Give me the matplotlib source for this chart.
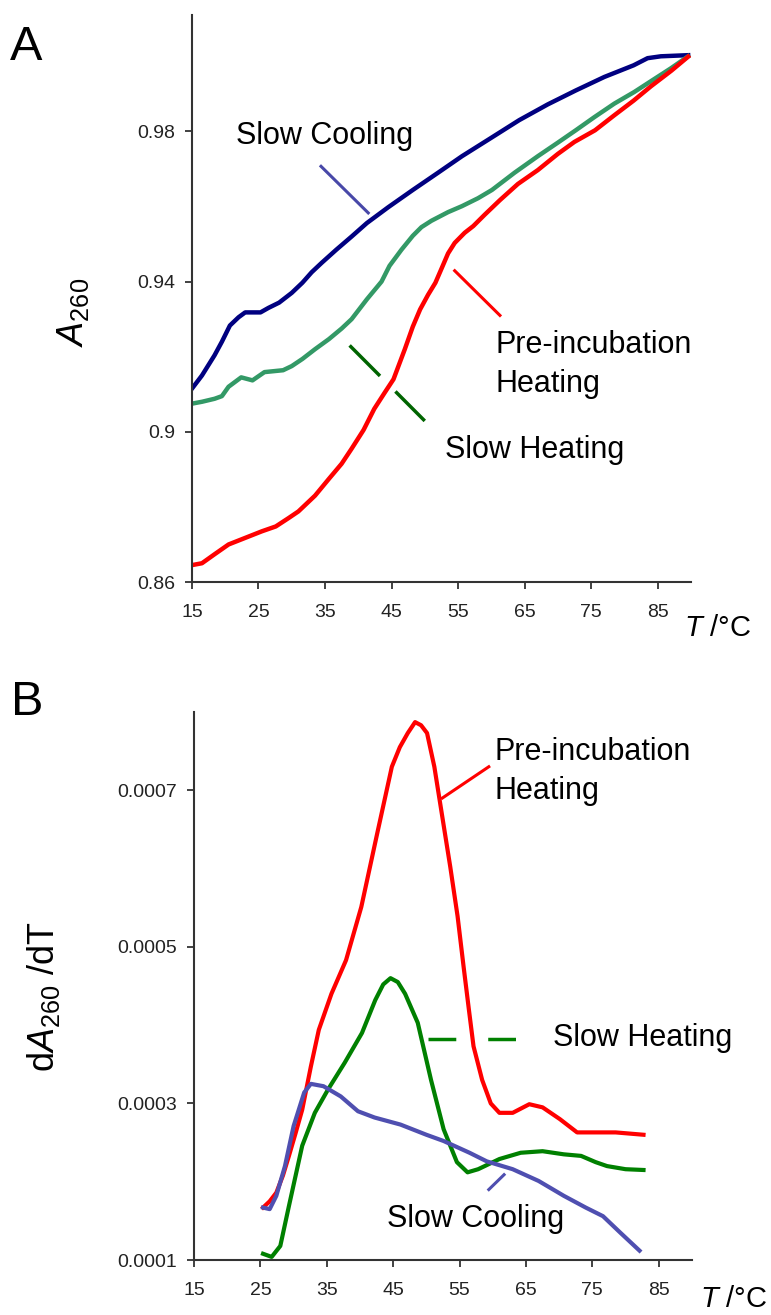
import matplotlib
matplotlib.use("Agg")
import matplotlib.pyplot as plt

plt.rcParams['font.family'] = ['Liberation Sans', 'DejaVu Sans']
plt.rcParams['mathtext.fontset'] = 'custom'
plt.rcParams['mathtext.rm'] = 'Liberation Sans'
plt.rcParams['mathtext.it'] = 'Liberation Sans:italic'
plt.rcParams['mathtext.bf'] = 'Liberation Sans:bold'

# ---------------- Panel A data (T in °C, A260) ----------------
a_red_T = [15.0, 16.5, 18.4, 20.5, 23.5, 25.5, 27.6, 29.5, 31.0, 33.5, 35.6, 37.5, 39.0,
           40.8, 42.4, 44.0, 45.3, 47.0, 48.2, 49.3, 50.5, 51.6, 52.7, 53.5, 54.5, 56.0,
           57.3, 59.0, 61.3, 64.0, 67.0, 70.0, 72.5, 75.6, 78.5, 81.4, 84.0, 87.1, 89.6]
a_red_A = [0.8645, 0.8650, 0.8674, 0.8700, 0.8721, 0.8735, 0.8748, 0.8770, 0.8788, 0.8830,
           0.8875, 0.8915, 0.8955, 0.9005, 0.9061, 0.9105, 0.9140, 0.9220, 0.9280, 0.9326,
           0.9365, 0.9397, 0.9442, 0.9475, 0.9503, 0.9530, 0.9548, 0.9578, 0.9617, 0.9660,
           0.9697, 0.9740, 0.9772, 0.9803, 0.9843, 0.9882, 0.9920, 0.9962, 0.9999]

a_green_T = [15.0, 16.5, 18.4, 19.5, 20.5, 22.4, 24.1, 25.9, 28.7, 30.0, 31.6, 33.5, 35.6,
             37.5, 39.0, 41.3, 43.5, 44.7, 46.5, 48.2, 49.5, 51.0, 53.5, 55.6, 58.0, 60.1,
             63.5, 67.0, 70.0, 72.7, 75.5, 78.5, 81.5, 84.2, 87.0, 89.6]
a_green_A = [0.9075, 0.9080, 0.9088, 0.9095, 0.9120, 0.9145, 0.9137, 0.9159, 0.9164, 0.9175,
             0.9194, 0.9220, 0.9247, 0.9275, 0.9300, 0.9353, 0.9400, 0.9442, 0.9485, 0.9522,
             0.9545, 0.9562, 0.9585, 0.9601, 0.9622, 0.9644, 0.9690, 0.9734, 0.9770, 0.9803,
             0.9838, 0.9874, 0.9905, 0.9936, 0.9968, 1.0000]

a_blue_T = [15.0, 16.5, 18.4, 19.5, 20.7, 22.0, 23.0, 25.3, 26.5, 28.1, 30.0, 31.6, 33.0,
            34.5, 36.7, 39.0, 41.3, 44.5, 48.2, 52.0, 55.6, 60.0, 64.2, 68.5, 72.7, 77.0,
            81.4, 83.5, 85.5, 89.6]
a_blue_A = [0.9115, 0.9150, 0.9204, 0.9240, 0.9283, 0.9305, 0.9318, 0.9318, 0.9330, 0.9344,
            0.9370, 0.9397, 0.9425, 0.9450, 0.9485, 0.9520, 0.9556, 0.9598, 0.9644, 0.9690,
            0.9734, 0.9783, 0.9830, 0.9872, 0.9909, 0.9945, 0.9976, 0.9995, 1.0000, 1.0003]

# ---------------- Panel B data (T in °C, dA260/dT) ----------------
b_red_T = [25.4, 26.4, 27.4, 28.4, 29.3, 30.3, 31.3, 32.6, 33.8, 35.7, 37.9, 40.2, 42.6,
           44.8, 46.0, 47.2, 48.3, 49.2, 50.1, 51.2, 52.4, 53.6, 54.7, 55.6, 56.4, 57.1,
           58.4, 59.7, 61.0, 63.0, 65.5, 67.5, 70.1, 72.7, 75.3, 78.5, 82.7]
b_red_V = [0.000167, 0.000175, 0.000186, 0.000208, 0.000233, 0.000262, 0.000292, 0.000347,
           0.000394, 0.000440, 0.000483, 0.000551, 0.000645, 0.000730, 0.000755, 0.000773,
           0.000787, 0.000783, 0.000773, 0.000730, 0.000666, 0.000602, 0.000539, 0.000475,
           0.000420, 0.000373, 0.000330, 0.000300, 0.000288, 0.000288, 0.000299, 0.000295,
           0.000280, 0.000263, 0.000263, 0.000263, 0.000260]

b_green_T = [25.4, 26.7, 28.0, 29.3, 31.3, 33.2, 35.2, 37.7, 40.3, 42.3, 43.5, 44.6, 45.7,
             46.8, 48.7, 50.7, 52.6, 54.6, 56.2, 57.8, 61.0, 64.2, 67.5, 70.7, 73.3, 75.5,
             77.2, 80.0, 82.7]
b_green_V = [0.000108, 0.000104, 0.000118, 0.000169, 0.000246, 0.000288, 0.000318, 0.000352,
             0.000390, 0.000432, 0.000452, 0.000460, 0.000455, 0.000440, 0.000403, 0.000330,
             0.000267, 0.000225, 0.000212, 0.000216, 0.000229, 0.000237, 0.000239, 0.000235,
             0.000233, 0.000225, 0.000220, 0.000216, 0.000215]

b_blue_T = [25.4, 26.4, 27.4, 28.7, 30.0, 31.6, 32.6, 34.5, 37.1, 39.7, 42.2, 46.1, 50.0,
            52.6, 56.5, 59.1, 63.0, 66.9, 70.7, 74.0, 76.6, 79.2, 82.1]
b_blue_V = [0.000167, 0.000165, 0.000182, 0.000220, 0.000271, 0.000314, 0.000325, 0.000322,
            0.000309, 0.000290, 0.000282, 0.000273, 0.000260, 0.000252, 0.000237, 0.000226,
            0.000216, 0.000201, 0.000182, 0.000167, 0.000156, 0.000135, 0.000112]

x_ticks = [15, 25, 35, 45, 55, 65, 75, 85]
a_yticks = [0.86, 0.9, 0.94, 0.98]
a_yticklabels = ['0.86', '0.9', '0.94', '0.98']
b_yticks = [0.0001, 0.0003, 0.0005, 0.0007]
b_yticklabels = ['0.0001', '0.0003', '0.0005', '0.0007']

label_cool = 'Slow Cooling'
label_heat = 'Slow Heating'
label_pre1 = 'Pre-incubation'
label_pre2 = 'Heating'

# ---------------- figure ----------------
fig = plt.figure(figsize=(7.71, 13.15), dpi=100)
axA = fig.add_axes([0.249, 0.5574, 0.647, 0.4312])
axB = fig.add_axes([0.2516, 0.0418, 0.6459, 0.4168])

def style(ax):
    for s in ['top', 'right']:
        ax.spines[s].set_visible(False)
    for s in ['left', 'bottom']:
        ax.spines[s].set_color('#333333')
        ax.spines[s].set_linewidth(1.5)
    ax.tick_params(direction='out', length=5, width=1.3, color='#333333',
                   labelsize=14, labelcolor='#222222')
    ax.tick_params(axis='x', pad=11)
    ax.tick_params(axis='y', pad=7)
    ax.set_xlim(15, 90)
    ax.set_xticks(x_ticks)
    ax.set_xticklabels([str(t) for t in x_ticks])

# Panel A
axA.plot(a_blue_T, a_blue_A, color='#000080', lw=3.2, solid_joinstyle='round')
axA.plot(a_green_T, a_green_A, color='#339966', lw=3.2, solid_joinstyle='round')
axA.plot(a_red_T, a_red_A, color='#ff0000', lw=3.2, solid_joinstyle='round')
style(axA)
axA.set_ylim(0.86, 1.011)
axA.set_yticks(a_yticks)
axA.set_yticklabels(a_yticklabels)

axA.plot([34.4, 41.5], [0.9707, 0.9583], color='#4848a8', lw=2.2)
axA.text(21.6, 0.9787, label_cool, fontsize=22, va='center', ha='left')
axA.plot([54.5, 61.3], [0.9429, 0.9310], color='#ff0000', lw=2.2)
axA.text(60.6, 0.9230, label_pre1, fontsize=22, va='center', ha='left')
axA.text(60.6, 0.9127, label_pre2, fontsize=22, va='center', ha='left')
axA.plot([38.7, 50.0], [0.9230, 0.9029], color='#006400', lw=2.5, dashes=(12.4, 6.3))
axA.text(53.0, 0.8952, label_heat, fontsize=22, va='center', ha='left')

# Panel B
axB.plot(b_red_T, b_red_V, color='#ff0000', lw=3.0, solid_joinstyle='round')
axB.plot(b_green_T, b_green_V, color='#008000', lw=3.0, solid_joinstyle='round')
axB.plot(b_blue_T, b_blue_V, color='#4f4fb0', lw=3.0, solid_joinstyle='round')
style(axB)
axB.set_ylim(0.0001, 0.0008)
axB.set_yticks(b_yticks)
axB.set_yticklabels(b_yticklabels)

axB.plot([59.4, 52.4], [0.000730, 0.000690], color='#ff0000', lw=2.2)
axB.text(60.2, 0.000749, label_pre1, fontsize=22, va='center', ha='left')
axB.text(60.2, 0.000699, label_pre2, fontsize=22, va='center', ha='left')
axB.plot([50.3, 63.9], [0.000382, 0.000382], color='#008000', lw=2.5, dashes=(8, 9.2))
axB.text(69.1, 0.000383, label_heat, fontsize=22, va='center', ha='left')
axB.plot([59.4, 61.7], [0.000190, 0.000209], color='#4f4fb0', lw=2.2)
axB.text(44.1, 0.000152, label_cool, fontsize=22, va='center', ha='left')

# axis labels and panel letters
fig.text(0.095, 0.7627, r'$\mathit{A}_{260}$', fontsize=26, rotation=90,
         ha='center', va='center')
fig.text(0.975, 0.5224, r'$\mathit{T}$ /°C', fontsize=21, ha='right', va='center')
fig.text(0.056, 0.242, r'd$\mathit{A}_{260}$ /dT', fontsize=26, rotation=90,
         ha='center', va='center')
fig.text(0.995, 0.0125, r'$\mathit{T}$ /°C', fontsize=21, ha='right', va='center')
fig.text(0.034, 0.964, 'A', fontsize=35, ha='center', va='center')
fig.text(0.035, 0.466, 'B', fontsize=35, ha='center', va='center')

fig.savefig('out.png', dpi=100, facecolor='white')
